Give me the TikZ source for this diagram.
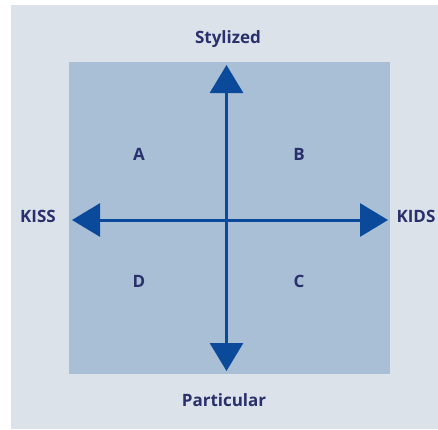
\documentclass[tikz,border=0pt]{standalone}
\usepackage{fontspec}
\setmainfont{Open Sans}
\usetikzlibrary{arrows.meta}
\definecolor{outerbg}{HTML}{DBE2EA}
\definecolor{innerbg}{HTML}{A8BFD6}
\definecolor{arrowblue}{HTML}{0B4A9B}
\definecolor{labelnavy}{HTML}{29306B}
\tikzset{
  axislabel/.style={font=\fontsize{17}{20}\selectfont\bfseries, text=labelnavy, inner sep=0pt, anchor=base},
  quadlabel/.style={font=\fontsize{17}{20}\selectfont\bfseries, text=labelnavy, inner sep=0pt, anchor=base},
  axisarrow/.style={draw=arrowblue, line width=3pt, {Triangle[length=28pt,width=33pt]}-{Triangle[length=28pt,width=33pt]}, arrowblue}
}
\begin{document}
\begin{tikzpicture}[x=1pt,y=-1pt]
\useasboundingbox (0,0) rectangle (438,429);
\fill[white] (0,0) rectangle (438,429);
\fill[outerbg] (11,5) rectangle (438,429);
\fill[innerbg] (69,62) rectangle (390,374);
\coordinate (top) at (226.5,65);
\coordinate (bottom) at (226.5,371);
\coordinate (left) at (72,220);
\coordinate (right) at (388,220);
\draw[axisarrow] (bottom) -- (top);
\draw[axisarrow] (left) -- (right);
\node[axislabel] (stylized) at (228,43.5) {Stylized};
\node[axislabel] (particular) at (224,406) {Particular};
\node[axislabel] (kiss) at (38,222) {KISS};
\node[axislabel] (kids) at (416,222) {KIDS};
\node[quadlabel] (a) at (139,160.5) {A};
\node[quadlabel] (b) at (299,160.5) {B};
\node[quadlabel] (d) at (139,287.5) {D};
\node[quadlabel] (c) at (299,287.5) {C};
\end{tikzpicture}
\end{document}
